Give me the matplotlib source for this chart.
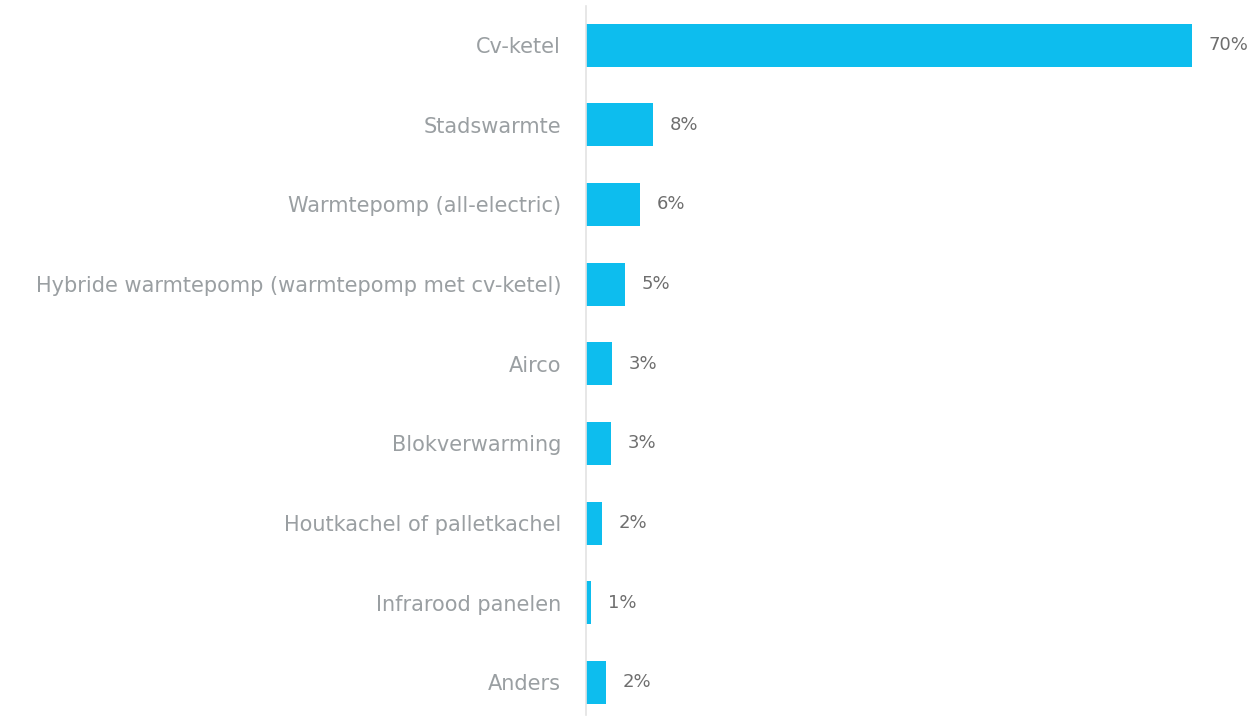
import matplotlib
matplotlib.use("Agg")
import matplotlib.pyplot as plt

categories = ["Cv-ketel", "Stadswarmte", "Warmtepomp (all-electric)",
              "Hybride warmtepomp (warmtepomp met cv-ketel)", "Airco",
              "Blokverwarming", "Houtkachel of palletkachel",
              "Infrarood panelen", "Anders"]
values = [70.0, 7.7, 6.2, 4.5, 3.0, 2.9, 1.85, 0.6, 2.3]
value_labels = ["70%", "8%", "6%", "5%", "3%", "3%", "2%", "1%", "2%"]

plt.rcParams['font.family'] = ['DejaVu Sans']

fig = plt.figure(figsize=(12.53, 7.21), dpi=100)
ax = fig.add_axes([586 / 1253, 6 / 721, 667 / 1253, 709 / 721])

y = range(len(categories))
ax.barh(y, values, height=0.54, color="#0dbdee")
ax.set_ylim(8.41, -0.49)
ax.set_xlim(0, 667 / (606 / 70))

for i, (v, lab) in enumerate(zip(values, value_labels)):
    ax.annotate(lab, (v, i), xytext=(12, 0), textcoords="offset points",
                va="center", ha="left", fontsize=13, color="#6e6e6e")

ax.set_yticks(list(y))
ax.set_yticklabels(categories, fontsize=15, color="#9a9fa2")
ax.tick_params(axis="y", length=0, pad=18)
ax.set_xticks([])
for s in ["top", "right", "bottom"]:
    ax.spines[s].set_visible(False)
ax.spines["left"].set_color("#e3e3e3")
ax.spines["left"].set_linewidth(1.2)

fig.savefig("out.png", dpi=100)
